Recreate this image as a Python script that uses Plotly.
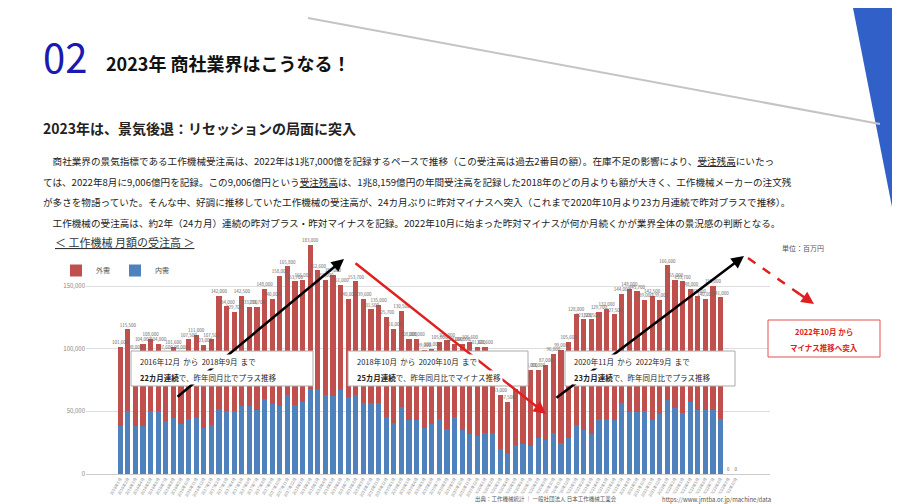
import plotly.graph_objects as go

months = [f"{y}年{m}月" for y in range(2016, 2023) for m in range(1, 13)][:83]

total = [101.6,115.5,98,104,108,104,97.6,101.6,98,107.5,111,103,107.5,142,134,129.7,142.5,133.7,133.7,148,140,158,165.8,153.7,155,183,162.6,155,159,151,140,153.7,139.6,131.5,135,125.7,116,130.5,108,108,99,100,
         105.6,107,104,104,105.6,101.6,101.6,83,63,57.5,68,75,83,83,87,96,99,105.6,128,123.5,123.5,129.7,132,127.5,144,148,145.7,139,142.5,139,166.6,155,153.7,148,142.5,140,150,141,
         0,0]
domestic = [38,50,38,38,50,50,42,44.6,40,44,45,36.6,39,51.6,50,50,54,54,51,60,56,54,63,55,57.5,68,68,63,62,67,61.5,63,56.7,56.7,56.7,45.5,40.6,53.5,43,43,36.6,40,
            44,36,45.5,35,32,30.7,32.6,33,20,17,23,24,22,29,27,33,25,29,39,35,32,44,44,43,56.7,49.5,49.5,50,43,48,59,53,48.7,57.5,51,51,51,44,
            0,0]
total = [round(v*1000) for v in total]
domestic = [round(v*1000) for v in domestic]
n = min(len(total), len(domestic))
months = months[:n]; total = total[:n]; domestic = domestic[:n]
overseas = [t-d for t, d in zip(total, domestic)]

L, R, T, B = 78, 138, 228, 38
W, H = 900-L-R, 504-T-B
def px(x): return (x-L)/W
def py(y): return (504-B-y)/H

fig = go.Figure()
fig.add_bar(x=months, y=domestic, name="内需", marker_color="#4F81BD", marker_line_width=0)
fig.add_bar(x=months, y=overseas, name="外需", marker_color="#C0504D", marker_line_width=0)
fig.add_scatter(x=months, y=[t+3000 for t in total], mode="text",
                text=[f"{t:,}" for t in total], textfont=dict(size=4.5, color="#666"),
                showlegend=False, hoverinfo="skip")

fig.update_layout(
    width=900, height=504, paper_bgcolor="white", plot_bgcolor="white",
    margin=dict(l=L, r=R, t=T, b=B), barmode="stack", bargap=0.3,
    font=dict(family="Noto Sans CJK JP", color="#222"),
    legend=dict(orientation="h", x=px(48), y=py(248), xanchor="left", yanchor="top",
                traceorder="reversed", font=dict(size=7, color="#555"), bgcolor="rgba(0,0,0,0)"),
    xaxis=dict(tickangle=-60, tickfont=dict(size=4, color="#888"), showgrid=False,
               showline=True, linecolor="#ccc", ticks=""),
    yaxis=dict(range=[0, 190000], tickvals=[0, 50000, 100000, 150000], tickformat=",",
               tickfont=dict(size=6, color="#888"), gridcolor="#ddd", zeroline=False),
)

shapes = [
    dict(type="path", path=f"M {px(845)} {py(0)} L {px(900)} {py(0)} L {px(900)} {py(245)} L {px(893)} {py(245)} Z",
         fillcolor="#3060C8", line_width=0),
    dict(type="line", x0=px(300), y0=py(10), x1=px(872), y1=py(116), line=dict(color="#c4c4c4", width=2)),
    dict(type="line", x0=px(740), y0=py(250), x1=px(800), y1=py(292), line=dict(color="#E02020", width=2.5, dash="dash")),
]
for x0, x1 in [(123, 305), (340, 520), (557, 727)]:
    shapes.append(dict(type="rect", x0=px(x0), x1=px(x1), y0=py(343), y1=py(378),
                       fillcolor="white", line=dict(color="#aaa", width=1), layer="above"))
shapes.append(dict(type="rect", x0=px(760), x1=px(872), y0=py(312), y1=py(349),
                   fillcolor="white", line=dict(color="#E05050", width=1)))
for s in shapes:
    s.setdefault("xref", "paper"); s.setdefault("yref", "paper")
fig.update_layout(shapes=shapes)

def note(x, y, text, size, color="#222", xanchor="left", **kw):
    fig.add_annotation(x=px(x), y=py(y), xref="paper", yref="paper", text=text, showarrow=False,
                       xanchor=xanchor, yanchor="middle", font=dict(size=size, color=color), **kw)

def arrow(x0, y0, x1, y1, color):
    fig.add_annotation(x=px(x1), y=py(y1), ax=x0-x1, ay=y0-y1, xref="paper", yref="paper",
                       axref="pixel", ayref="pixel", text="", showarrow=True, arrowhead=2,
                       arrowsize=1, arrowwidth=2.5, arrowcolor=color)

arrow(168, 390, 336, 251, "black")
arrow(346, 254, 538, 406, "#E02020")
arrow(547, 391, 736, 248, "black")
arrow(790, 285, 806, 296, "#E02020")

note(33, 48, "02", 40, "#1a1ab0")
note(96, 55, "<b>2023年 商社業界はこうなる！</b>", 18, "#111")
note(33, 120, "<b>2023年は、景気後退：リセッションの局面に突入</b>", 14, "#222")
paras = [
    "　商社業界の景気指標である工作機械受注高は、2022年は1兆7,000億を記録するペースで推移（この受注高は過去2番目の額）。在庫不足の影響により、<u>受注残高</u>にいたっ",
    "ては、2022年8月に9,006億円を記録。この9,006億円という<u>受注残高</u>は、1兆8,159億円の年間受注高を記録した2018年のどの月よりも額が大きく、工作機械メーカーの注文残",
    "が多さを物語っていた。そんな中、好調に推移していた工作機械の受注高が、24カ月ぶりに昨対マイナスへ突入（これまで2020年10月より23カ月連続で昨対プラスで推移）。",
    "　工作機械の受注高は、約2年（24カ月）連続の昨対プラス・昨対マイナスを記録。2022年10月に始まった昨対マイナスが何か月続くかが業界全体の景況感の判断となる。",
]
for i, p in enumerate(paras):
    note(33, 153 + i*20.5, p, 9.6, "#222")
note(45, 234, "<u>＜ 工作機械 月額の受注高 ＞</u>", 11, "#333")
note(772, 240, "単位：百万円", 7, "#555")

for x0, l1, l2 in [(123, "2016年12月  から  2018年9月  まで", "<b>22カ月連続</b>で、昨年同月比でプラス推移"),
                   (340, "2018年10月  から  2020年10月  まで", "<b>25カ月連続</b>で、昨年同月比でマイナス推移"),
                   (557, "2020年11月  から  2022年9月  まで", "<b>23カ月連続</b>で、昨年同月比でプラス推移")]:
    note(x0+7, 353, l1, 7.5, bgcolor="white")
    note(x0+7, 369, l2, 7.5, bgcolor="white")
note(816, 323, "<b>2022年10月 から</b>", 7.5, "#E02020", xanchor="center")
note(816, 339, "<b>マイナス推移へ突入</b>", 7.5, "#E02020", xanchor="center")
note(465, 491, "出典：工作機械統計 ｜ 一般社団法人 日本工作機械工業会", 5.5, "#555", bgcolor="white")
note(652, 491, "https://www.jmtba.or.jp/machine/data", 6, "#555", bgcolor="white")

fig.write_html("out.html")
